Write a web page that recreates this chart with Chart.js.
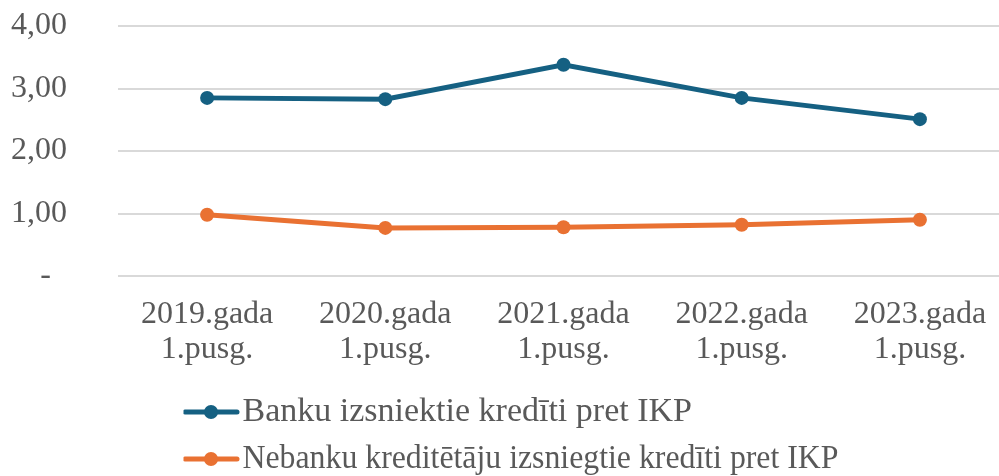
<!DOCTYPE html>
<html>
<head>
<meta charset="utf-8">
<script src="https://cdn.jsdelivr.net/npm/chart.js@4/dist/chart.umd.min.js"></script>
<style>
  html, body { margin:0; padding:0; background:#fff; overflow:hidden; }
  #wrap { width:1016px; height:476px; }
</style>
</head>
<body>
<div id="wrap"><canvas id="grafiks"></canvas></div>
<script>
const periodi = [["2019.gada","1.pusg."],["2020.gada","1.pusg."],["2021.gada","1.pusg."],["2022.gada","1.pusg."],["2023.gada","1.pusg."]];
const bankuKrediti = [2.85, 2.83, 3.38, 2.85, 2.51];
const nebankuKrediti = [0.98, 0.77, 0.78, 0.82, 0.90];
const asuTicks = [0, 1, 2, 3, 4];
const nosaukumi = ["Banku izsniektie kredīti pret IKP", "Nebanku kreditētāju izsniegtie kredīti pret IKP"];

const teksts = "#595959";
const zils = "#156082";
const oranzs = "#E97132";

// leģendas simbols: līnija ar punktu
function simbols(krasa){
  const c = document.createElement("canvas");
  c.width = 58; c.height = 16;
  const x = c.getContext("2d");
  x.strokeStyle = krasa; x.lineWidth = 5; x.lineCap = "round";
  x.beginPath(); x.moveTo(3,8); x.lineTo(55,8); x.stroke();
  x.fillStyle = krasa;
  x.beginPath(); x.arc(29,8,7,0,Math.PI*2); x.fill();
  return c;
}

// leģenda pa kreisi, otrā rinda nedaudz saspiesta kā oriģinālā
const legendaVieta = {
  id:"legendaVieta",
  afterLayout(chart){
    chart.legend.left = 183.5;
    chart.legend.top = 382;
  },
  beforeDraw(chart){
    const ctx = chart.ctx;
    const orig = ctx.fillText;
    chart.$origFill = orig;
    ctx.fillText = function(t, x, y, w){
      if(t===nosaukumi[1]) return orig.call(this, t, x, y, 596);
      return orig.apply(this, arguments);
    };
  },
  afterDraw(chart){
    if(chart.$origFill) chart.ctx.fillText = chart.$origFill;
  }
};

new Chart(document.getElementById("grafiks"), {
  type:"line",
  data:{
    labels: periodi,
    datasets:[
      { label:nosaukumi[0], data:bankuKrediti, borderColor:zils, backgroundColor:zils,
        borderWidth:5, pointRadius:7, pointBorderWidth:0, pointStyle:"circle", tension:0 },
      { label:nosaukumi[1], data:nebankuKrediti, borderColor:oranzs, backgroundColor:oranzs,
        borderWidth:5, pointRadius:7, pointBorderWidth:0, pointStyle:"circle", tension:0 }
    ]
  },
  options:{
    responsive:true, maintainAspectRatio:false, animation:false,
    layout:{ padding:{ left:11, top:26, right:0, bottom:-16.4 } },
    plugins:{
      legend:{
        position:"bottom", align:"start", fullSize:false,
        labels:{
          font:{ family:"Liberation Serif", size:34 }, color:teksts,
          usePointStyle:true, pointStyleWidth:29, padding:13,
          generateLabels(chart){
            return chart.data.datasets.map((d,i)=>({
              text:d.label, fillStyle:d.borderColor, strokeStyle:d.borderColor, lineWidth:0,
              pointStyle:simbols(d.borderColor), fontColor:teksts, datasetIndex:i, hidden:false
            }));
          }
        }
      },
      tooltip:{ enabled:false }
    },
    scales:{
      x:{
        offset:true,
        grid:{ display:false, drawTicks:false },
        border:{ display:false },
        ticks:{ color:teksts, font:{ family:"Liberation Serif", size:32, lineHeight:1.1 }, padding:21, maxRotation:0, autoSkip:false }
      },
      y:{
        min:0, max:4,
        afterBuildTicks(ax){ ax.ticks = asuTicks.map(v=>({value:v})); },
        grid:{ color:"#D9D9D9", lineWidth:2, drawTicks:true, tickLength:51, tickColor:"rgba(0,0,0,0)" },
        border:{ display:false },
        ticks:{ color:teksts, font:{ family:"Liberation Serif", size:32 }, padding:0,
          callback:v => v===0 ? "-  " : v.toFixed(2).replace(".", ",") }
      }
    }
  },
  plugins:[legendaVieta]
});
</script>
</body>
</html>
